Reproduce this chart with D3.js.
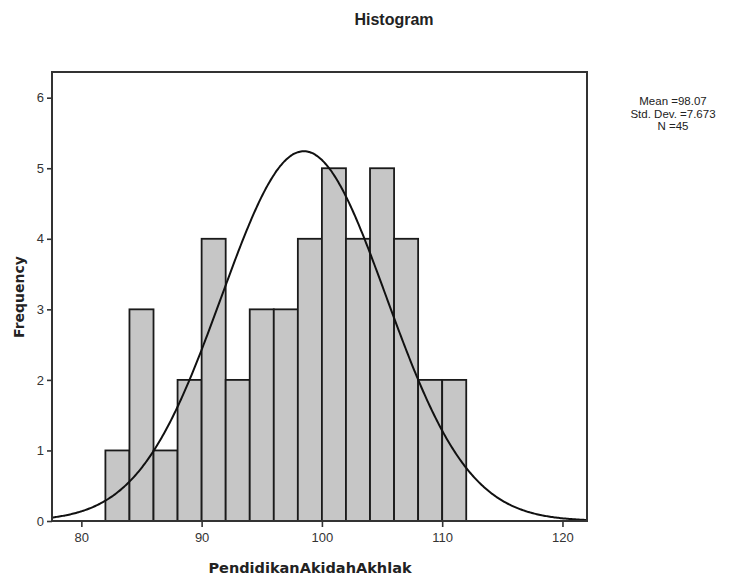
<!DOCTYPE html>
<html><head><meta charset="utf-8">
<script src="https://cdn.jsdelivr.net/npm/d3@7"></script>
<style>body{margin:0;background:#fff}svg{display:block}</style>
</head><body><svg id="c" width="730" height="578"></svg>
<script>
// Data
const binStarts = [82,84,86,88,90,92,94,96,98,100,102,104,106,108,110];
const binWidth = 2;
const frequencies = [1,3,1,2,4,2,3,3,4,5,4,5,4,2,2];
const xTicks = [80,90,100,110,120];
const yTicks = [0,1,2,3,4,5,6];
const statLines = ["Mean =98.07","Std. Dev. =7.673","N =45"];
// normal curve parameters as drawn in the picture
const curveCenter = 98.5, curveSd = 6.85, curveScale = 90;

const svg = d3.select("#c");
const L = 52, R = 587, T = 72, B = 521;
const x = d3.scaleLinear().domain([77.56, 122.04]).range([L, R]);
const y = d3.scaleLinear().domain([0, 6.364]).range([B, T]);

// bars
svg.append("g").selectAll("rect").data(binStarts.map((s,i)=>({s, f:frequencies[i]})))
  .join("rect")
  .attr("x", d=>x(d.s)).attr("width", d=>x(d.s+binWidth)-x(d.s))
  .attr("y", d=>y(d.f)).attr("height", d=>y(0)-y(d.f))
  .attr("fill", "#c6c6c6").attr("stroke", "#1a1a1a").attr("stroke-width", 1.8);

// curve
const xs = d3.range(x.domain()[0], x.domain()[1]+0.001, 0.1);
const pdf = v => curveScale/(curveSd*Math.sqrt(2*Math.PI))*Math.exp(-0.5*((v-curveCenter)/curveSd)**2);
svg.append("path").datum(xs)
  .attr("d", d3.line().x(d=>x(d)).y(d=>y(pdf(d))).curve(d3.curveBasis))
  .attr("fill","none").attr("stroke","#111").attr("stroke-width",2);

// frame
svg.append("rect").attr("x",L).attr("y",T).attr("width",R-L).attr("height",B-T)
  .attr("fill","none").attr("stroke","#333").attr("stroke-width",2);

// axes
const xa = svg.append("g").attr("transform",`translate(0,${B})`)
  .call(d3.axisBottom(x).tickValues(xTicks).tickSize(6).tickPadding(6).tickFormat(d3.format("d")));
const ya = svg.append("g").attr("transform",`translate(${L},0)`)
  .call(d3.axisLeft(y).tickValues(yTicks).tickSize(5).tickPadding(3).tickFormat(d3.format("d")));
[xa,ya].forEach(a=>{
  a.select(".domain").remove();
  a.selectAll("line").attr("stroke","#333").attr("stroke-width",1.6);
  a.selectAll("text").attr("font-family","Liberation Sans, Arial, sans-serif").attr("font-size",13).attr("fill","#333");
});

// titles
svg.append("text").attr("x",394).attr("y",25).attr("text-anchor","middle")
  .attr("font-family","Liberation Sans, Arial, sans-serif").attr("font-weight","bold").attr("font-size",16).attr("fill","#222")
  .text("Histogram");
svg.append("text").attr("transform","translate(24,297) rotate(-90)").attr("text-anchor","middle")
  .attr("font-family","DejaVu Sans, Verdana, sans-serif").attr("font-weight","bold").attr("font-size",14).attr("fill","#222")
  .text("Frequency");
svg.append("text").attr("x",310).attr("y",573).attr("text-anchor","middle")
  .attr("font-family","DejaVu Sans, Verdana, sans-serif").attr("font-weight","bold").attr("font-size",14.5).attr("fill","#222")
  .text("PendidikanAkidahAkhlak");

// stats legend
svg.append("g").selectAll("text").data(statLines).join("text")
  .attr("x",673).attr("y",(d,i)=>105+i*12.5).attr("text-anchor","middle")
  .attr("font-family","Liberation Sans, Arial, sans-serif").attr("font-size",11.5).attr("fill","#222")
  .text(d=>d);
</script></body></html>
